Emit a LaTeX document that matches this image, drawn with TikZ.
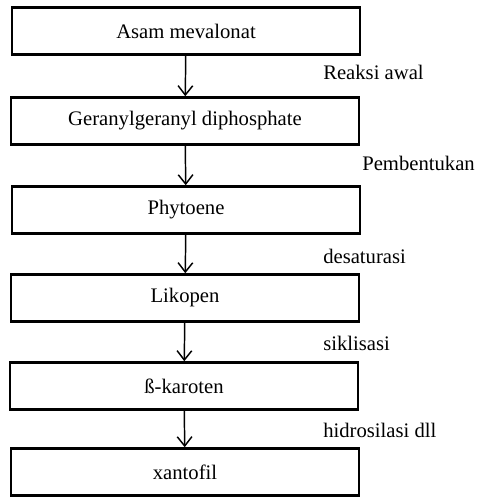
\documentclass[tikz,border=0pt]{standalone}
\usepackage{fontspec}
\setmainfont{Liberation Serif}
\usetikzlibrary{arrows.meta, positioning}

\begin{document}
\begin{tikzpicture}[
    x=0.75pt, y=-0.75pt,
    box/.style={draw, line width=2.2pt, minimum width=261pt, minimum height=35pt, inner sep=0pt, font=\fontsize{15.5}{17}\selectfont},
    label_text/.style={anchor=west, inner sep=0pt, font=\fontsize{15.5}{17}\selectfont},
    edge/.style={-{Straight Barb[length=7pt, width=11pt, line width=1.1pt]}, line width=1.1pt}
]
\useasboundingbox (0,0) rectangle (483,497);

% Kotak
\node[box] (mev) at (186,31) {Asam mevalonat};
\node[box] (ggpp) at (185,121) {Geranylgeranyl diphosphate};
\node[box] (phy) at (186,210) {Phytoene};
\node[box] (lik) at (185,298) {Likopen};
\node[box] (bkar) at (184,386) {ß-karoten};
\node[box] (xan) at (185,472) {xantofil};

% Panah
\draw[edge] (mev) -- (ggpp);
\draw[edge] (ggpp) -- (phy);
\draw[edge] (phy) -- (lik);
\draw[edge] (lik) -- (bkar);
\draw[edge] (bkar) -- (xan);

% Keterangan reaksi
\node[label_text] (l1) at (323,72) {Reaksi awal};
\node[label_text] (l2) at (362,163) {Pembentukan};
\node[label_text] (l3) at (323,256) {desaturasi};
\node[label_text] (l4) at (323,343) {siklisasi};
\node[label_text] (l5) at (323,430) {hidrosilasi dll};

\end{tikzpicture}
\end{document}
